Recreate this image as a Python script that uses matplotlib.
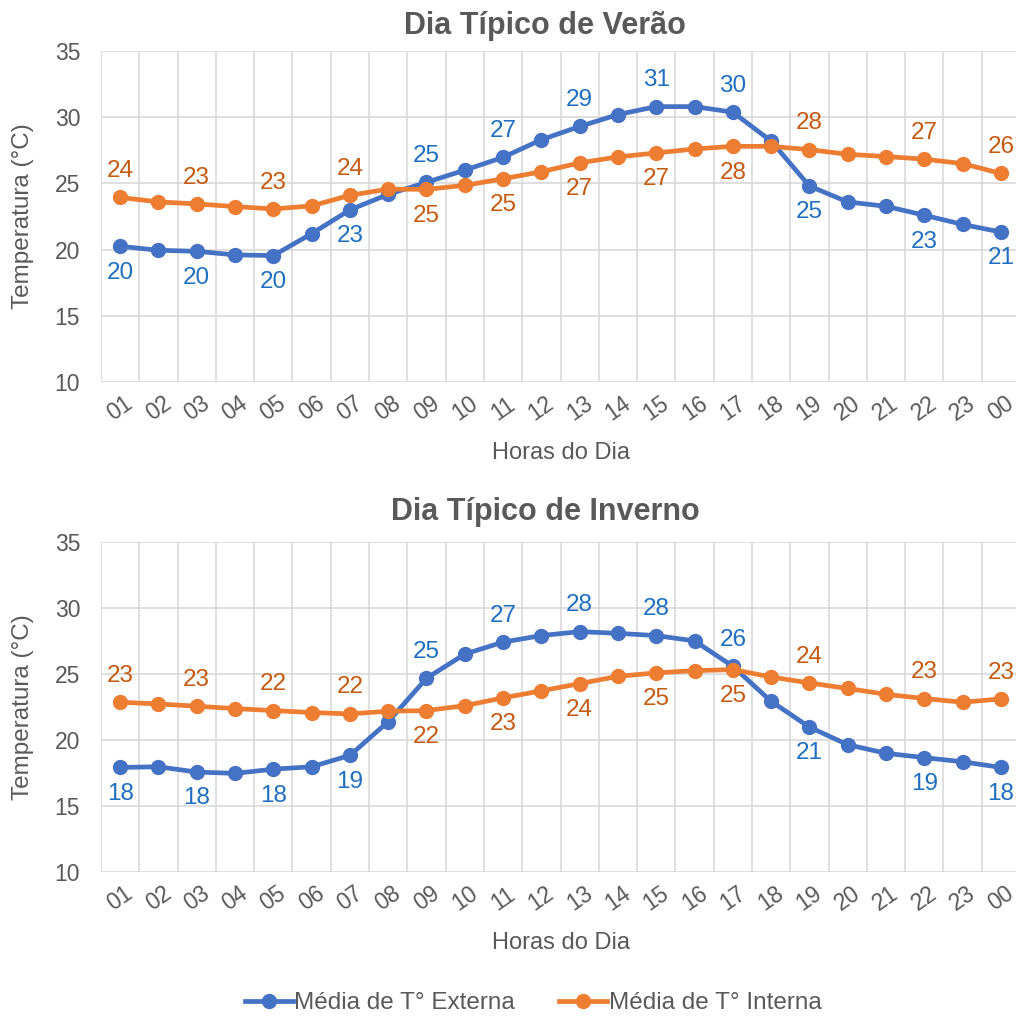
import matplotlib
matplotlib.use('Agg')
import matplotlib.pyplot as plt
import numpy as np

plt.rcParams['font.family'] = ['Liberation Sans', 'DejaVu Sans']

hours = ['01', '02', '03', '04', '05', '06', '07', '08', '09', '10', '11', '12',
         '13', '14', '15', '16', '17', '18', '19', '20', '21', '22', '23', '00']

summer_ext = [20.25, 19.95, 19.87, 19.6, 19.55, 21.2, 23.0, 24.17, 25.08, 26.0, 26.97, 28.3,
              29.3, 30.2, 30.8, 30.8, 30.38, 28.2, 24.8, 23.6, 23.27, 22.6, 21.9, 21.33]
summer_int = [23.94, 23.6, 23.45, 23.25, 23.07, 23.3, 24.1, 24.57, 24.55, 24.85, 25.35, 25.88,
              26.55, 27.0, 27.3, 27.6, 27.8, 27.8, 27.55, 27.2, 27.03, 26.83, 26.5, 25.75]
winter_ext = [17.93, 17.98, 17.58, 17.48, 17.8, 17.98, 18.84, 21.39, 24.67, 26.5, 27.41, 27.9,
              28.2, 28.07, 27.9, 27.5, 25.58, 22.93, 20.98, 19.65, 19.0, 18.67, 18.36, 17.93]
winter_int = [22.86, 22.73, 22.56, 22.38, 22.23, 22.08, 21.98, 22.18, 22.23, 22.6, 23.19, 23.72,
              24.27, 24.82, 25.08, 25.25, 25.33, 24.77, 24.32, 23.9, 23.46, 23.14, 22.86, 23.11]

titles = ['Dia Típico de Verão', 'Dia Típico de Inverno']
series_names = ['Média de T° Externa', 'Média de T° Interna']
y_label = 'Temperatura (°C)'
x_label = 'Horas do Dia'
y_ticks = [10, 15, 20, 25, 30, 35]

# indices of points that carry a data label, and side (+1 above, -1 below)
label_idx = [0, 2, 4, 6, 8, 10, 12, 14, 16, 18, 21, 23]
ext_side = [-1, -1, -1, -1, 1, 1, 1, 1, 1, -1, -1, -1]
int_side = [1, 1, 1, 1, -1, -1, -1, -1, -1, 1, 1, 1]

BLUE = '#4472C4'
ORANGE = '#ED7D31'
BLUE_LBL = '#1F6FC0'
ORANGE_LBL = '#C55A11'
GRAY = '#595959'
GRID = '#D9D9D9'

W, H = 1016, 1017
fig = plt.figure(figsize=(W / 100, H / 100), dpi=100)

left = 101 / W
width = (1020 - 101) / W
axes_px = [(51, 382), (541.7, 872.3)]
title_y = [26, 512]

x = np.arange(len(hours))
handles = None
for k, (ext, intr) in enumerate([(summer_ext, summer_int), (winter_ext, winter_int)]):
    top, bot = axes_px[k]
    ax = fig.add_axes([left, 1 - bot / H, width, (bot - top) / H])
    ax.set_xlim(-0.5, len(hours) - 0.5)
    ax.set_ylim(10, 35)
    for s in ax.spines.values():
        s.set_visible(False)
    ax.set_yticks(y_ticks)
    ax.set_yticklabels([str(v) for v in y_ticks])
    ax.set_xticks(x)
    ax.set_xticks(np.arange(-0.5, len(hours), 1.0), minor=True)
    ax.grid(True, which='minor', axis='x', color=GRID, lw=1.2)
    ax.grid(True, which='major', axis='y', color=GRID, lw=1.2)
    ax.set_axisbelow(True)
    ax.tick_params(axis='both', which='both', length=0)
    ax.tick_params(axis='y', labelsize=16.5, labelcolor=GRAY, pad=15)
    ax.tick_params(axis='x', labelsize=16.5, labelcolor=GRAY, pad=19)
    ax.set_xticklabels(hours, rotation=35, ha='center', va='center',
                       rotation_mode='anchor')

    l1, = ax.plot(x, ext, color=BLUE, lw=3.4, marker='o', ms=10,
                  label=series_names[0], clip_on=False, zorder=3)
    l2, = ax.plot(x, intr, color=ORANGE, lw=3.4, marker='o', ms=10,
                  label=series_names[1], clip_on=False, zorder=3)
    handles = [l1, l2]

    for vals, sides, col in [(ext, ext_side, BLUE_LBL), (intr, int_side, ORANGE_LBL)]:
        for i, sd in zip(label_idx, sides):
            v = vals[i]
            ax.annotate(str(int(np.floor(v + 0.5))), (x[i], v),
                        xytext=(0, 19 * sd), textcoords='offset points',
                        ha='center', va='center', fontsize=17.5, color=col,
                        annotation_clip=False, zorder=4)

    ax.set_ylabel(y_label, fontsize=17.5, color=GRAY)
    ax.yaxis.set_label_coords(-(101 - 23) / 919, 0.5)
    ax.yaxis.label.set_va('center')
    ax.set_xlabel(x_label, fontsize=17, color=GRAY)
    ax.xaxis.set_label_coords(0.5, -(453 - 382) / (bot - top))
    ax.xaxis.label.set_va('center')

    fig.text(545 / W, 1 - title_y[k] / H, titles[k], ha='center', va='center',
             fontsize=22, fontweight='bold', color=GRAY)

fig.legend(handles=handles, loc='center', bbox_to_anchor=(533 / W, 1 - 1003 / H),
           ncol=2, frameon=False, fontsize=17.5, handlelength=2.0,
           columnspacing=1.8, handletextpad=0.05, labelcolor=GRAY,
           borderpad=0.2)

fig.savefig('out.png', dpi=100)
